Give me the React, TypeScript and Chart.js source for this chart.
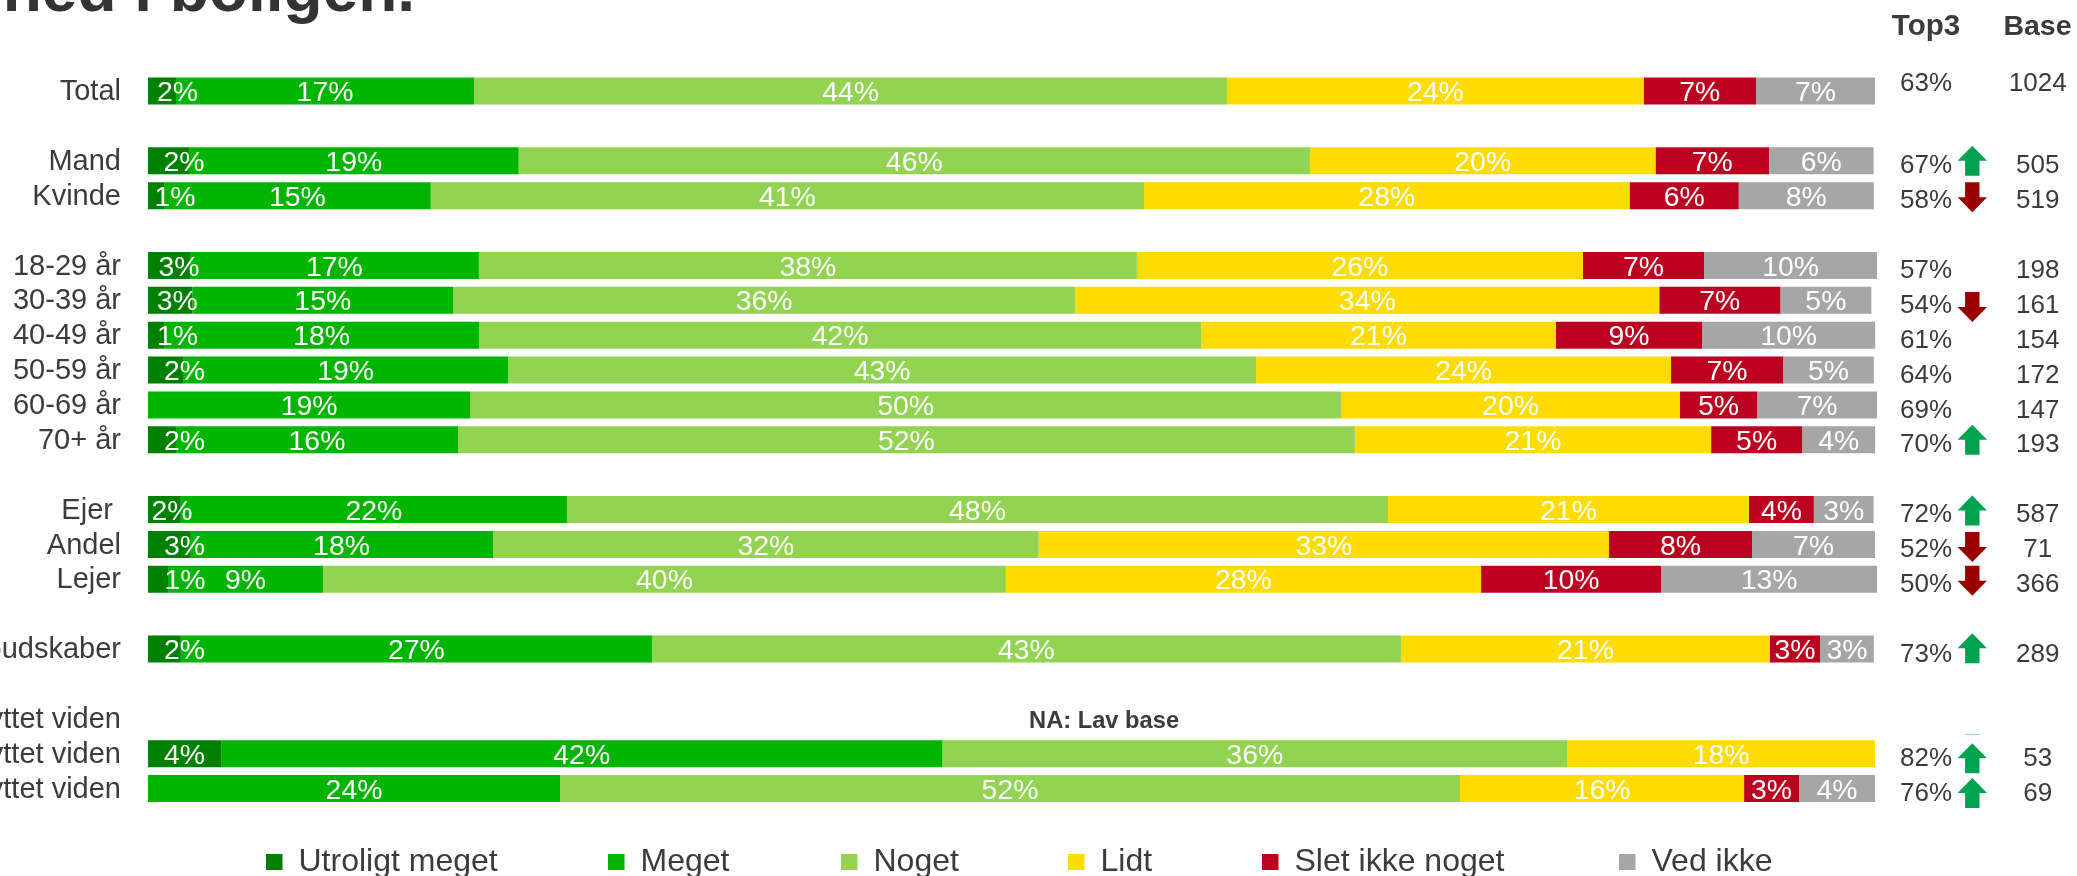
import React, { useEffect, useRef } from "react";
import { Chart, registerables } from "chart.js";

Chart.register(...registerables);

const categories = ["Total", "", "Mand", "Kvinde", "", "18-29 år", "30-39 år", "40-49 år", "50-59 år", "60-69 år", "70+ år", "", "Ejer ", "Andel", "Lejer", "", "budskaber", "", "benyttet viden", "benyttet viden", "benyttet viden"];

const utroligtMeget = [1.62, 0, 2.37, 0.93, 0, 2.43, 2.57, 0.93, 2.03, 0, 1.62, 0, 1.9, 2.43, 1.16, 0, 1.9, 0, 0, 4.23, 0];
const meget = [17.26, 0, 19.09, 15.44, 0, 16.73, 15.1, 18.24, 18.82, 18.65, 16.33, 0, 22.36, 17.55, 8.98, 0, 27.28, 0, 0, 41.77, 23.86];
const noget = [43.6, 0, 45.82, 41.3, 0, 38.1, 36.02, 41.81, 43.31, 50.43, 51.93, 0, 47.54, 31.59, 39.53, 0, 43.37, 0, 0, 36.17, 52.11];
const lidt = [24.12, 0, 20.01, 28.12, 0, 25.83, 33.82, 20.54, 24.03, 19.63, 20.63, 0, 20.9, 33.03, 27.52, 0, 21.37, 0, 0, 17.83, 16.45];
const sletIkkeNoget = [6.51, 0, 6.57, 6.32, 0, 7.01, 7.01, 8.47, 6.49, 4.46, 5.27, 0, 3.76, 8.28, 10.42, 0, 2.9, 0, 0, 0, 3.18];
const vedIkke = [6.89, 0, 6.06, 7.82, 0, 10.02, 5.27, 10.02, 5.25, 6.95, 4.23, 0, 3.46, 7.12, 12.51, 0, 3.11, 0, 0, 0, 4.4];

const utroligtLabels = ["2%", "", "2%", "1%", "", "3%", "3%", "1%", "2%", "", "2%", "", "2%", "3%", "1%", "", "2%", "", "", "4%", ""];
const megetLabels = ["17%", "", "19%", "15%", "", "17%", "15%", "18%", "19%", "19%", "16%", "", "22%", "18%", "9%", "", "27%", "", "", "42%", "24%"];
const nogetLabels = ["44%", "", "46%", "41%", "", "38%", "36%", "42%", "43%", "50%", "52%", "", "48%", "32%", "40%", "", "43%", "", "", "36%", "52%"];
const lidtLabels = ["24%", "", "20%", "28%", "", "26%", "34%", "21%", "24%", "20%", "21%", "", "21%", "33%", "28%", "", "21%", "", "", "18%", "16%"];
const sletLabels = ["7%", "", "7%", "6%", "", "7%", "7%", "9%", "7%", "5%", "5%", "", "4%", "8%", "10%", "", "3%", "", "", "", "3%"];
const vedIkkeLabels = ["7%", "", "6%", "8%", "", "10%", "5%", "10%", "5%", "7%", "4%", "", "3%", "7%", "13%", "", "3%", "", "", "", "4%"];

const top3 = ["63%", "", "67%", "58%", "", "57%", "54%", "61%", "64%", "69%", "70%", "", "72%", "52%", "50%", "", "73%", "", "", "82%", "76%"];
const base = ["1024", "", "505", "519", "", "198", "161", "154", "172", "147", "193", "", "587", "71", "366", "", "289", "", "", "53", "69"];
const arrows = ["", "", "up", "down", "", "", "down", "", "", "", "up", "", "up", "down", "down", "", "up", "", "", "up", "up"];

const seriesNames = ["Utroligt meget", "Meget", "Noget", "Lidt", "Slet ikke noget", "Ved ikke"];
const seriesColors = ["#008000", "#00B500", "#92D351", "#FFDC00", "#BC0020", "#A6A6A6"];

// Small horizontal nudges (px) for the darkest segment's labels, per row, which sit off-centre in the source.
const darkLabelNudge = [15.5, 0, 15.5, 19, 0, 10, 7, 21.5, 19, 0, 22.5, 0, 7.6, 15.6, 27, 0, 20, 0, 0, 0, 0];
// Vertical offset (px) of each arrow from its row's centre.
const arrowNudge = [0, 0, 0, 1.7, 0, 0, 6.8, 0, 0, 0, 0, 0, 1, 2.7, 1.5, 0, -0.7, 0, 0, 4.5, 4.5];
// Left edge (px) of each legend entry.
const legendLefts = [266, 608, 841, 1068, 1262, 1619];

const FONT = '"Liberation Sans", Arial, sans-serif';
const TEXT = "#3B3B3B";
const PX_PER_PCT = 17.27;
const AXIS_MAX = 100.5;
const PLOT_LEFT = 148;
const PLOT_TOP = 73.56;
const PLOT_BOTTOM = 806;

const segmentLabels = [utroligtLabels, megetLabels, nogetLabels, lidtLabels, sletLabels, vedIkkeLabels];

function drawArrow(ctx: CanvasRenderingContext2D, cx: number, cy: number, dir: string) {
  const halfW = 14.7, halfStem = 7.2, h = 15;
  const s = dir === "up" ? 1 : -1;
  ctx.fillStyle = dir === "up" ? "#00A14F" : "#990000";
  ctx.beginPath();
  ctx.moveTo(cx, cy - s * h);
  ctx.lineTo(cx + halfW, cy);
  ctx.lineTo(cx + halfStem, cy);
  ctx.lineTo(cx + halfStem, cy + s * h);
  ctx.lineTo(cx - halfStem, cy + s * h);
  ctx.lineTo(cx - halfStem, cy);
  ctx.lineTo(cx - halfW, cy);
  ctx.closePath();
  ctx.fill();
}

const overlayPlugin = {
  id: "overlay",
  afterDatasetsDraw(chart: any) {
    const ctx: CanvasRenderingContext2D = chart.ctx;
    const yScale = chart.scales.y;
    ctx.save();

    // Segment labels
    ctx.font = `28.4px ${FONT}`;
    ctx.fillStyle = "#FFFFFF";
    ctx.textAlign = "center";
    ctx.textBaseline = "alphabetic";
    segmentLabels.forEach((labels, ds) => {
      const meta = chart.getDatasetMeta(ds);
      labels.forEach((text, i) => {
        if (!text) return;
        const el = meta.data[i];
        const nudge = ds === 0 ? darkLabelNudge[i] : 0;
        ctx.fillText(text, (el.x + el.base) / 2 + nudge, el.y + 10.2);
      });
    });

    // Right-hand columns
    ctx.font = `26px ${FONT}`;
    categories.forEach((_, i) => {
      const y = yScale.getPixelForValue(i);
      const dy = i === 0 ? 0 : 12.7;
      ctx.fillStyle = TEXT;
      if (top3[i]) ctx.fillText(top3[i], 1926, y + dy);
      if (base[i]) ctx.fillText(base[i], 2037.7, y + dy);
      if (arrows[i]) drawArrow(ctx, 1972.3, y + arrowNudge[i], arrows[i]);
    });
    ctx.fillStyle = "#8AD3A8";
    ctx.fillRect(1965, yScale.getPixelForValue(18) + 15, 15, 1);

    // Column heads
    ctx.fillStyle = TEXT;
    ctx.font = `bold 29.5px ${FONT}`;
    ctx.fillText("Top3", 1926, 34.5);
    ctx.font = `bold 28.5px ${FONT}`;
    ctx.fillText("Base", 2037.5, 34.5);

    // Note
    ctx.font = `bold 23.7px ${FONT}`;
    ctx.fillText("NA: Lav base", chart.scales.x.getPixelForValue(55.36), yScale.getPixelForValue(18) + 9);

    // Clipped heading
    ctx.textAlign = "left";
    ctx.fillStyle = "#333333";
    ctx.font = `bold 64px ${FONT}`;
    ctx.fillText("ned i boligen.", 2.7, 11);

    // Legend
    ctx.font = `32px ${FONT}`;
    chart.data.datasets.forEach((d: any, i: number) => {
      const x = legendLefts[i];
      ctx.fillStyle = d.backgroundColor;
      ctx.fillRect(x, 854, 16.5, 16);
      ctx.fillStyle = TEXT;
      ctx.fillText(d.label, x + 32.5, 870.7);
    });
    ctx.restore();
  },
};

export default function App() {
  const ref = useRef<HTMLCanvasElement>(null);
  useEffect(() => {
    const values = [utroligtMeget, meget, noget, lidt, sletIkkeNoget, vedIkke];
    const chart = new Chart(ref.current as HTMLCanvasElement, {
      type: "bar",
      data: {
        labels: categories,
        datasets: values.map((data, i) => ({
          label: seriesNames[i],
          data,
          backgroundColor: seriesColors[i],
          borderWidth: 0,
          barPercentage: 0.774,
          categoryPercentage: 1,
        })),
      },
      options: {
        indexAxis: "y",
        animation: false,
        responsive: false,
        devicePixelRatio: 1,
        layout: {
          padding: {
            left: 0,
            top: PLOT_TOP,
            bottom: 876 - PLOT_BOTTOM,
            right: 2077 - (PLOT_LEFT + PX_PER_PCT * AXIS_MAX),
          },
        },
        plugins: { legend: { display: false }, title: { display: false }, tooltip: { enabled: false } },
        scales: {
          x: { stacked: true, display: false, min: 0, max: AXIS_MAX },
          y: {
            stacked: true,
            grid: { display: false, drawTicks: false },
            border: { display: false },
            afterFit: (s: any) => {
              s.width = PLOT_LEFT;
              if (!s._labelsShifted) {
                s._labelsShifted = true;
                const drawLabels = s.drawLabels;
                s.drawLabels = function (area: any) {
                  this.ctx.save();
                  this.ctx.translate(0, 1.2);
                  drawLabels.call(this, area);
                  this.ctx.restore();
                };
              }
            },
            ticks: {
              autoSkip: false,
              padding: 27,
              color: TEXT,
              font: { family: FONT, size: 29 },
            },
          },
        },
      } as any,
      plugins: [overlayPlugin],
    });
    return () => chart.destroy();
  }, []);
  return (
    <canvas
      ref={ref}
      width={2077}
      height={876}
      style={{ position: "absolute", left: 0, top: 0, display: "block", background: "#FFFFFF" }}
    />
  );
}
